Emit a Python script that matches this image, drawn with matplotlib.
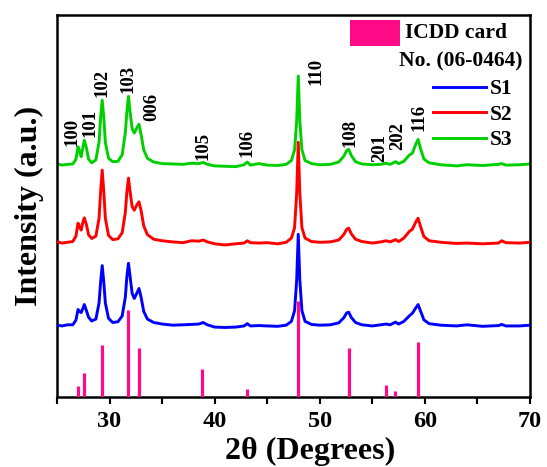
import matplotlib
matplotlib.use("Agg")
import matplotlib.pyplot as plt
from matplotlib.patches import Rectangle
import numpy as np

plt.rcParams['font.family'] = ['Liberation Serif', 'DejaVu Serif']
plt.rcParams['font.weight'] = 'bold'

# ---------------- data ----------------
two_theta = [25.0, 25.5, 26.0, 26.5, 26.8, 27.0, 27.15, 27.3, 27.45, 27.6, 27.8, 28.0, 28.3, 28.7,
             29.0, 29.15, 29.3, 29.45, 29.6, 29.9, 30.3, 30.8, 31.2, 31.5, 31.65, 31.8, 31.95,
             32.15, 32.35, 32.6, 32.8, 33.0, 33.25, 33.6, 34.2, 35.0, 36.0, 37.0, 37.8, 38.5,
             38.9, 39.3, 40.0, 41.0, 42.0, 42.8, 43.1, 43.4, 44.2, 45.0, 46.0, 46.8, 47.3, 47.6,
             47.8, 47.95, 48.1, 48.3, 48.6, 49.2, 50.0, 51.0, 51.8, 52.3, 52.55, 52.75, 53.0,
             53.4, 54.0, 55.0, 55.8, 56.3, 56.7, 57.2, 57.5, 58.0, 58.5, 58.8, 59.15, 59.35,
             59.6, 59.9, 60.4, 61.5, 63.0, 64.0, 65.5, 67.0, 67.3, 67.7, 69.0, 70.0]

s1 = [0.2, 0.0, 0.3, 0.3, 1.5, 4.3, 3.8, 3.5, 4.5, 5.6, 4.0, 2.3, 1.3, 1.8,
      6.0, 11.5, 15.8, 11.5, 6.0, 2.0, 0.9, 1.1, 2.6, 7.5, 13.0, 16.4, 13.0,
      8.5, 7.2, 8.6, 9.8, 7.5, 3.8, 1.8, 0.9, 0.5, 0.2, 0.3, 0.4, 0.5,
      0.9, 0.3, -0.3, -0.4, -0.3, 0.0, 0.6, 0.0, 0.1, 0.0, -0.1, 0.2, 1.2, 4.0,
      12.0, 24.0, 12.0, 4.0, 1.2, 0.4, 0.2, 0.3, 0.8, 2.2, 3.4, 3.6, 2.2,
      0.9, 0.3, 0.0, 0.3, 0.5, 0.3, 1.0, 0.5, 1.2, 2.6, 3.3, 4.8, 5.6,
      3.8, 1.6, 0.6, 0.2, 0.0, 0.3, -0.1, 0.1, 0.4, 0.0, 0.0, 0.2]

s2 = [0.3, 0.0, 0.2, 0.4, 1.8, 5.2, 4.2, 3.4, 5.3, 6.6, 4.8, 2.2, 1.2, 1.8,
      6.5, 13.5, 19.1, 13.5, 6.5, 2.0, 0.9, 1.1, 2.7, 8.0, 13.5, 17.0, 13.5,
      9.5, 8.6, 10.0, 10.8, 8.5, 4.5, 2.2, 1.0, 0.6, 0.3, 0.1, 0.6, 0.5,
      0.8, 0.3, -0.2, -0.5, -0.2, 0.0, 0.6, 0.1, 0.0, 0.1, -0.2, 0.2, 1.3, 4.0,
      13.0, 26.4, 13.0, 4.0, 1.3, 0.4, 0.2, 0.3, 0.8, 2.3, 3.6, 3.9, 2.4,
      1.0, 0.4, 0.0, 0.3, 0.6, 0.3, 0.9, 0.4, 1.3, 3.0, 3.6, 5.6, 6.5,
      4.2, 1.7, 0.6, 0.2, -0.1, 0.0, -0.2, 0.0, 0.6, 0.1, 0.0, 0.2]

s3 = [0.3, 0.0, 0.2, 0.3, 1.5, 4.8, 3.6, 2.2, 4.5, 6.5, 4.5, 1.6, 0.6, 1.4,
      6.0, 12.5, 17.0, 12.5, 6.0, 1.8, 0.9, 1.0, 2.7, 8.5, 14.0, 18.0, 14.0,
      9.5, 8.4, 9.8, 10.7, 8.0, 4.0, 1.8, 0.8, 0.4, 0.3, 0.2, 0.5, 0.4,
      0.7, 0.2, -0.2, -0.3, -0.4, 0.1, 0.8, 0.0, 0.4, 0.0, -0.1, 0.2, 1.2, 4.0,
      11.5, 23.3, 11.5, 4.0, 1.2, 0.4, 0.1, 0.2, 0.8, 2.4, 3.8, 4.1, 2.5,
      0.9, 0.3, 0.1, 0.2, 0.5, 0.2, 0.9, 0.4, 1.0, 2.6, 3.1, 5.6, 6.7,
      4.2, 1.6, 0.6, 0.1, -0.2, 0.1, -0.1, 0.2, 0.4, 0.0, 0.1, 0.3]

series_names = ['S1', 'S2', 'S3']

# ICDD card No. 06-0464 reference lines
icdd_pos = [27.0, 27.6, 29.26, 31.76, 32.84, 38.84, 43.12, 47.95, 52.74, 56.33, 57.2, 59.35]
icdd_int = [2.9, 6.3, 13.6, 22.8, 12.9, 7.3, 2.1, 25.1, 12.9, 3.2, 1.6, 14.4]

hkl_labels = ['100', '101', '102', '103', '006', '105', '106', '110', '108', '201', '202', '116']

# ---------------- layout / style ----------------
offsets = [18.6, 40.3, 60.7]
colors = ['#0000ff', '#ff0000', '#00d000']
zorders = [4, 3, 2]
stick_color = '#ff0a87'
label_xy = [(26.4, 69.5), (28.15, 71.7), (29.3, 82.3), (31.76, 83.3), (34.05, 75.8),
            (38.9, 65.7), (43.1, 66.4), (49.6, 85.2), (52.9, 69.2), (55.66, 65.3),
            (57.38, 68.3), (59.4, 73.3)]

fig = plt.figure(figsize=(5.47, 4.67), dpi=100)
ax = fig.add_axes([0.1042, 0.1499, 0.969 - 0.1042, 0.9679 - 0.1499])

x = np.array(two_theta)
handles = []
for ys, off, col, zo, name in zip([s1, s2, s3], offsets, colors, zorders, series_names):
    ln, = ax.plot(x, np.array(ys) + off, color=col, lw=2.1, zorder=zo, label=name,
                  solid_joinstyle='round')
    handles.append(ln)

ax.vlines(icdd_pos, 0, icdd_int, color=stick_color, lw=2.3, zorder=5)

for lab, (lx, ly) in zip(hkl_labels, label_xy):
    ax.text(lx, ly, lab, rotation=90, ha='center', va='center', fontsize=13.5,
            fontweight='bold')

ax.set_xlim(25, 70)
ax.set_ylim(0, 100)
ax.set_xticks([30, 40, 50, 60, 70])
ax.set_xticks([25, 35, 45, 55, 65], minor=True)
ax.tick_params(axis='x', which='both', direction='out', length=5, width=1.5,
               labelsize=17.5, pad=5)
ax.set_yticks([])
for sp in ax.spines.values():
    sp.set_linewidth(1.8)
for lab in ax.get_xticklabels():
    lab.set_fontweight('bold')

ax.set_xlabel('2θ (Degrees)', fontsize=23, fontweight='bold')
ax.xaxis.set_label_coords(0.535, -0.105)
ax.set_ylabel('Intensity (a.u.)', fontsize=23, fontweight='bold', labelpad=9)

# ICDD legend entry
ax.add_patch(Rectangle((0.619, 0.9196), 0.106, 0.067, transform=ax.transAxes,
                       facecolor=stick_color, edgecolor='none', zorder=6))
ax.text(0.736, 0.953, 'ICDD card', transform=ax.transAxes, ha='left', va='center',
        fontsize=15.5, fontweight='bold')
ax.text(0.985, 0.877, 'No. (06-0464)', transform=ax.transAxes, ha='right', va='center',
        fontsize=15.5, fontweight='bold')

leg = ax.legend(handles=handles, loc='upper left', bbox_to_anchor=(0.795, 0.832),
                frameon=False, fontsize=15.5, handlelength=2.45, handletextpad=0.2,
                labelspacing=0.25, borderaxespad=0, borderpad=0)
for t in leg.get_texts():
    t.set_fontweight('bold')

fig.savefig('out.png', dpi=100)
